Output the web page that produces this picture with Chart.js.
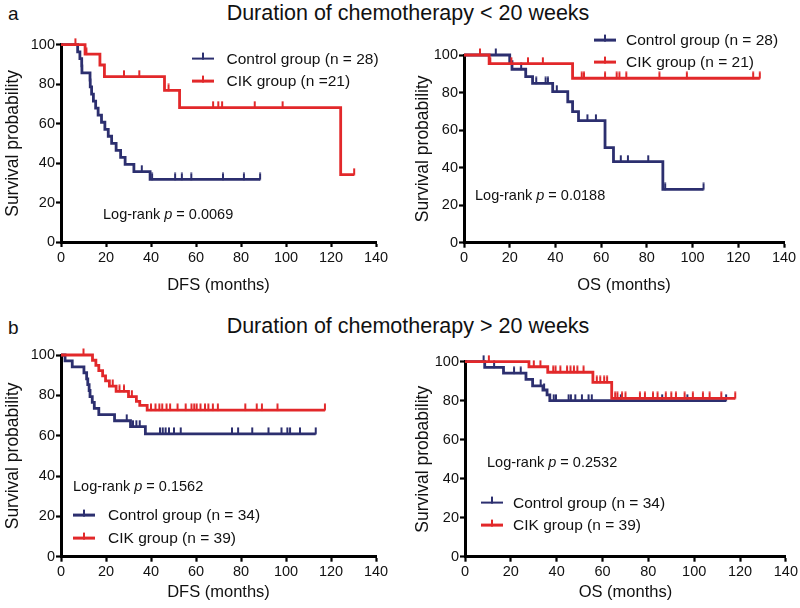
<!DOCTYPE html>
<html><head><meta charset="utf-8">
<script src="https://cdn.jsdelivr.net/npm/chart.js@4.4.0/dist/chart.umd.min.js"></script>
<style>
body{margin:0;width:800px;height:608px;background:#fff;position:relative;overflow:hidden;font-family:"Liberation Sans",Arial,sans-serif;color:#111;}
.t{position:absolute;white-space:nowrap;line-height:1;transform:translateY(-50%);}
.box{position:absolute;}
.lg{position:absolute;height:2.8px;width:22px;transform:translateY(-50%);}
.lg i{position:absolute;left:10px;bottom:0;width:2px;height:7px;background:inherit;}
</style></head><body>
<div class="t" style="left:8px;top:13px;font-size:19px;">a</div>
<div class="t" style="left:0;width:816px;text-align:center;top:14px;font-size:21.5px;">Duration of chemotherapy &lt; 20 weeks</div>
<div class="t" style="left:8px;top:327px;font-size:19px;">b</div>
<div class="t" style="left:0;width:816px;text-align:center;top:327px;font-size:21.5px;">Duration of chemotherapy &gt; 20 weeks</div>
<div class="box" style="left:0;top:30px;"><canvas id="c1" width="400" height="275"></canvas></div>
<div class="box" style="left:400px;top:30px;"><canvas id="c2" width="400" height="275"></canvas></div>
<div class="box" style="left:0;top:340px;"><canvas id="c3" width="400" height="268"></canvas></div>
<div class="box" style="left:400px;top:340px;"><canvas id="c4" width="400" height="268"></canvas></div>
<div id="overlay"></div>
<script>
// ---------- data ----------
const xTicks = [0, 20, 40, 60, 80, 100, 120, 140];
const yTicks = [0, 20, 40, 60, 80, 100];

// a, DFS (< 20 weeks)
const aDfsControlTimes  = [7.4, 8.4, 9.2, 9.3, 12.9, 13.0, 13.6, 14.4, 15.4, 16.5, 18.0, 19.5, 21.0, 22.5, 24.5, 26.5, 28.5, 32.4, 39.6];
const aDfsControlSurv   = [96.4, 92.9, 89.3, 85.7, 82.1, 78.6, 75.0, 71.4, 67.9, 64.3, 60.7, 57.1, 53.6, 50.0, 46.4, 42.9, 39.3, 35.7, 31.7];
const aDfsControlCensor = [35.9, 40.5, 50.7, 53.7, 57.9, 72.0, 81.3, 88.5];
const aDfsCikTimes      = [10.7, 17.3, 19.3, 46.0, 52.7, 124.3];
const aDfsCikSurv       = [95.2, 89.7, 83.8, 76.8, 68.1, 34.1];
const aDfsCikCensor     = [6.4, 11.3, 28.0, 34.8, 47.8, 67.6, 69.9, 71.6, 86.1, 98.5, 130.3];

// a, OS (< 20 weeks)
const aOsControlTimes  = [20.0, 21.0, 27.0, 30.0, 38.8, 45.4, 47.5, 50.1, 61.7, 65.4, 87.0];
const aOsControlSurv   = [96.4, 92.4, 88.5, 84.9, 80.5, 75.1, 69.8, 65.0, 50.6, 43.2, 28.4];
const aOsControlCensor = [13.9, 25.0, 31.6, 35.7, 36.7, 40.6, 54.0, 57.7, 68.6, 71.7, 80.6, 88.0, 104.8];
const aOsCikTimes      = [11.0, 47.5];
const aOsCikSurv       = [95.4, 87.6];
const aOsCikCensor     = [7.0, 11.5, 20.7, 28.0, 34.5, 51.5, 52.5, 61.7, 66.8, 68.0, 71.0, 85.5, 97.5, 126.5, 129.4];

// b, DFS (> 20 weeks)
const bDfsControlTimes  = [1.8, 5.0, 10.2, 11.4, 11.9, 12.5, 12.9, 13.9, 14.8, 16.8, 23.8, 30.9, 37.5];
const bDfsControlSurv   = [97.1, 94.1, 91.2, 88.2, 85.3, 82.4, 79.4, 76.5, 73.5, 70.4, 67.4, 64.5, 60.9];
const bDfsControlCensor = [29.2, 32.0, 33.5, 35.0, 44.0, 45.2, 46.5, 48.0, 50.2, 53.2, 76.0, 78.7, 85.0, 92.2, 98.0, 100.6, 101.8, 106.2, 113.2];
const bDfsCikTimes      = [14.0, 15.5, 16.8, 18.5, 19.8, 21.5, 24.5, 30.0, 33.5, 35.0, 38.3];
const bDfsCikSurv       = [97.4, 94.9, 92.3, 89.7, 87.2, 84.6, 82.0, 79.4, 77.0, 75.0, 72.7];
const bDfsCikCensor     = [10.0, 23.0, 26.0, 28.0, 31.5, 40.0, 42.0, 43.7, 45.0, 46.9, 48.5, 51.8, 55.4, 58.0, 59.2, 60.3, 62.0, 64.0, 65.5, 67.5, 69.7, 81.9, 87.0, 89.3, 96.2, 117.3];

// b, OS (> 20 weeks)
const bOsControlTimes  = [8.6, 16.8, 26.6, 29.5, 34.0, 35.8, 37.0];
const bOsControlSurv   = [97.1, 94.1, 90.9, 87.6, 85.5, 83.0, 80.0];
const bOsControlCensor = [8.1, 12.7, 21.4, 24.3, 33.0, 34.5, 38.7, 39.7, 45.2, 46.2, 48.1, 51.0, 53.9, 55.3, 68.0, 86.0, 97.0, 113.9];
const bOsCikTimes      = [27.9, 36.1, 55.8, 64.0];
const bOsCikSurv       = [97.4, 94.6, 89.4, 81.2];
const bOsCikCensor     = [10.4, 30.0, 32.9, 38.5, 39.5, 41.6, 44.5, 46.0, 47.5, 49.0, 51.7, 57.5, 59.0, 60.7, 62.0, 65.5, 66.5, 68.5, 70.0, 76.3, 78.5, 82.0, 84.0, 87.6, 90.0, 92.0, 95.8, 99.4, 103.8, 106.7, 111.8, 117.9];

const legendLabels = {
  a1: ['Control group (n = 28)', 'CIK group (n =21)'],
  a2: ['Control group (n = 28)', 'CIK group (n = 21)'],
  b1: ['Control group (n = 34)', 'CIK group (n = 39)'],
  b2: ['Control group (n = 34)', 'CIK group (n = 39)']
};
const pValues = { a1: '0.0069', a2: '0.0188', b1: '0.1562', b2: '0.2532' };
const xTitles = { a1: 'DFS (months)', a2: 'OS (months)', b1: 'DFS (months)', b2: 'OS (months)' };

// ---------- styles ----------
const FONT = '"Liberation Sans", Arial, sans-serif';
const NAVY = '#2c2f6f';
const RED = '#e2282a';

function tickMark(color) {
  const c = document.createElement('canvas');
  c.width = 4; c.height = 14;
  const g = c.getContext('2d');
  g.fillStyle = color;
  g.fillRect(1, 0.5, 2, 7);
  return c;
}
const navyTick = tickMark(NAVY);
const redTick = tickMark(RED);

function survAt(times, surv, t) {
  let s = 100;
  for (let i = 0; i < times.length; i++) if (times[i] <= t) s = surv[i];
  return s;
}
function curve(times, surv, censor) {
  const pts = [{x: 0, y: 100}];
  times.forEach((t, i) => pts.push({x: t, y: surv[i]}));
  const end = Math.max(times[times.length - 1], ...censor);
  pts.push({x: end, y: surv[surv.length - 1]});
  return pts;
}
function censorPts(times, surv, censor) {
  return censor.map(t => ({x: t, y: survAt(times, surv, t)}));
}

function makeChart(id, cfg, ctrl, cik) {
  const datasets = [
    {type: 'line', data: curve(cik[0], cik[1], cik[2]), borderColor: RED, borderWidth: 2.8, stepped: true, pointRadius: 0, fill: false, clip: false},
    {type: 'scatter', data: censorPts(cik[0], cik[1], cik[2]), pointStyle: redTick, pointRadius: 3, showLine: false, clip: false},
    {type: 'line', data: curve(ctrl[0], ctrl[1], ctrl[2]), borderColor: NAVY, borderWidth: 2.8, stepped: true, pointRadius: 0, fill: false, clip: false},
    {type: 'scatter', data: censorPts(ctrl[0], ctrl[1], ctrl[2]), pointStyle: navyTick, pointRadius: 3, showLine: false, clip: false}
  ];
  new Chart(document.getElementById(id), {
    type: 'line',
    data: {datasets},
    options: {
      responsive: false, animation: false, devicePixelRatio: 1,
      events: [],
      layout: {padding: {top: cfg.padTop, right: cfg.padRight, left: 0, bottom: 0}},
      plugins: {legend: {display: false}, tooltip: {enabled: false}},
      scales: {
        x: {
          type: 'linear', min: 0, max: 140,
          afterBuildTicks: s => { s.ticks = xTicks.map(v => ({value: v})); },
          afterFit: s => { s.height = cfg.xHeight; },
          border: {color: '#000', width: 3},
          grid: {drawOnChartArea: false, drawTicks: true, tickLength: 5, tickWidth: 2.2, tickColor: '#000'},
          ticks: {color: '#111', font: {family: FONT, size: 14.5}, padding: 2, maxRotation: 0, autoSkip: false},
          title: {display: true, text: cfg.xTitle, color: '#111', font: {family: FONT, size: 16.5}, padding: {top: 0, bottom: cfg.xTitlePad}}
        },
        y: {
          type: 'linear', min: 0, max: 100,
          afterBuildTicks: s => { s.ticks = yTicks.map(v => ({value: v})); },
          afterFit: s => { s.width = cfg.yWidth; },
          border: {color: '#000', width: 3},
          grid: {drawOnChartArea: false, drawTicks: true, tickLength: 5, tickWidth: 2.2, tickColor: '#000'},
          ticks: {color: '#111', font: {family: FONT, size: 14.5}, padding: 1, autoSkip: false},
          title: {display: true, text: 'Survival probability', color: '#111', font: {family: FONT, size: 17.5}, padding: {top: cfg.yTitlePad, bottom: 0}}
        }
      }
    }
  });
}

makeChart('c1', {padTop: 14.7, padRight: 24, xHeight: 63, yWidth: 61, xTitle: xTitles.a1, xTitlePad: 9.5, yTitlePad: 3},
  [aDfsControlTimes, aDfsControlSurv, aDfsControlCensor], [aDfsCikTimes, aDfsCikSurv, aDfsCikCensor]);
makeChart('c2', {padTop: 25, padRight: 16, xHeight: 62.3, yWidth: 64, xTitle: xTitles.a2, xTitlePad: 9.5, yTitlePad: 13},
  [aOsControlTimes, aOsControlSurv, aOsControlCensor], [aOsCikTimes, aOsCikSurv, aOsCikCensor]);
makeChart('c3', {padTop: 15, padRight: 24, xHeight: 51.3, yWidth: 61, xTitle: xTitles.b1, xTitlePad: 5.5, yTitlePad: 3},
  [bDfsControlTimes, bDfsControlSurv, bDfsControlCensor], [bDfsCikTimes, bDfsCikSurv, bDfsCikCensor]);
makeChart('c4', {padTop: 21.7, padRight: 14, xHeight: 51.3, yWidth: 65, xTitle: xTitles.b2, xTitlePad: 5.5, yTitlePad: 13},
  [bOsControlTimes, bOsControlSurv, bOsControlCensor], [bOsCikTimes, bOsCikSurv, bOsCikCensor]);

// ---------- legends & log-rank labels ----------
const overlay = document.getElementById('overlay');
function addText(html, x, y, size) {
  const d = document.createElement('div');
  d.className = 't';
  d.style.left = x + 'px'; d.style.top = y + 'px'; d.style.fontSize = size + 'px';
  d.innerHTML = html;
  overlay.appendChild(d);
}
function addLegend(key, x, y1, y2, textX) {
  [[NAVY, y1, legendLabels[key][0]], [RED, y2, legendLabels[key][1]]].forEach(([col, y, label]) => {
    const l = document.createElement('div');
    l.className = 'lg';
    l.style.left = x + 'px'; l.style.top = y + 'px'; l.style.background = col;
    l.appendChild(document.createElement('i'));
    overlay.appendChild(l);
    addText(label, textX, y, 15.5);
  });
}
addLegend('a1', 192, 58.5, 81, 226.5);
addLegend('a2', 594, 40, 62, 626);
addLegend('b1', 73, 515, 538, 108);
addLegend('b2', 481, 502.5, 525, 513);
addText('Log-rank <i>p</i> = ' + pValues.a1, 103, 214, 14.5);
addText('Log-rank <i>p</i> = ' + pValues.a2, 475, 195, 14.5);
addText('Log-rank <i>p</i> = ' + pValues.b1, 73, 486, 14.5);
addText('Log-rank <i>p</i> = ' + pValues.b2, 487, 462, 14.5);
</script>
</body></html>
